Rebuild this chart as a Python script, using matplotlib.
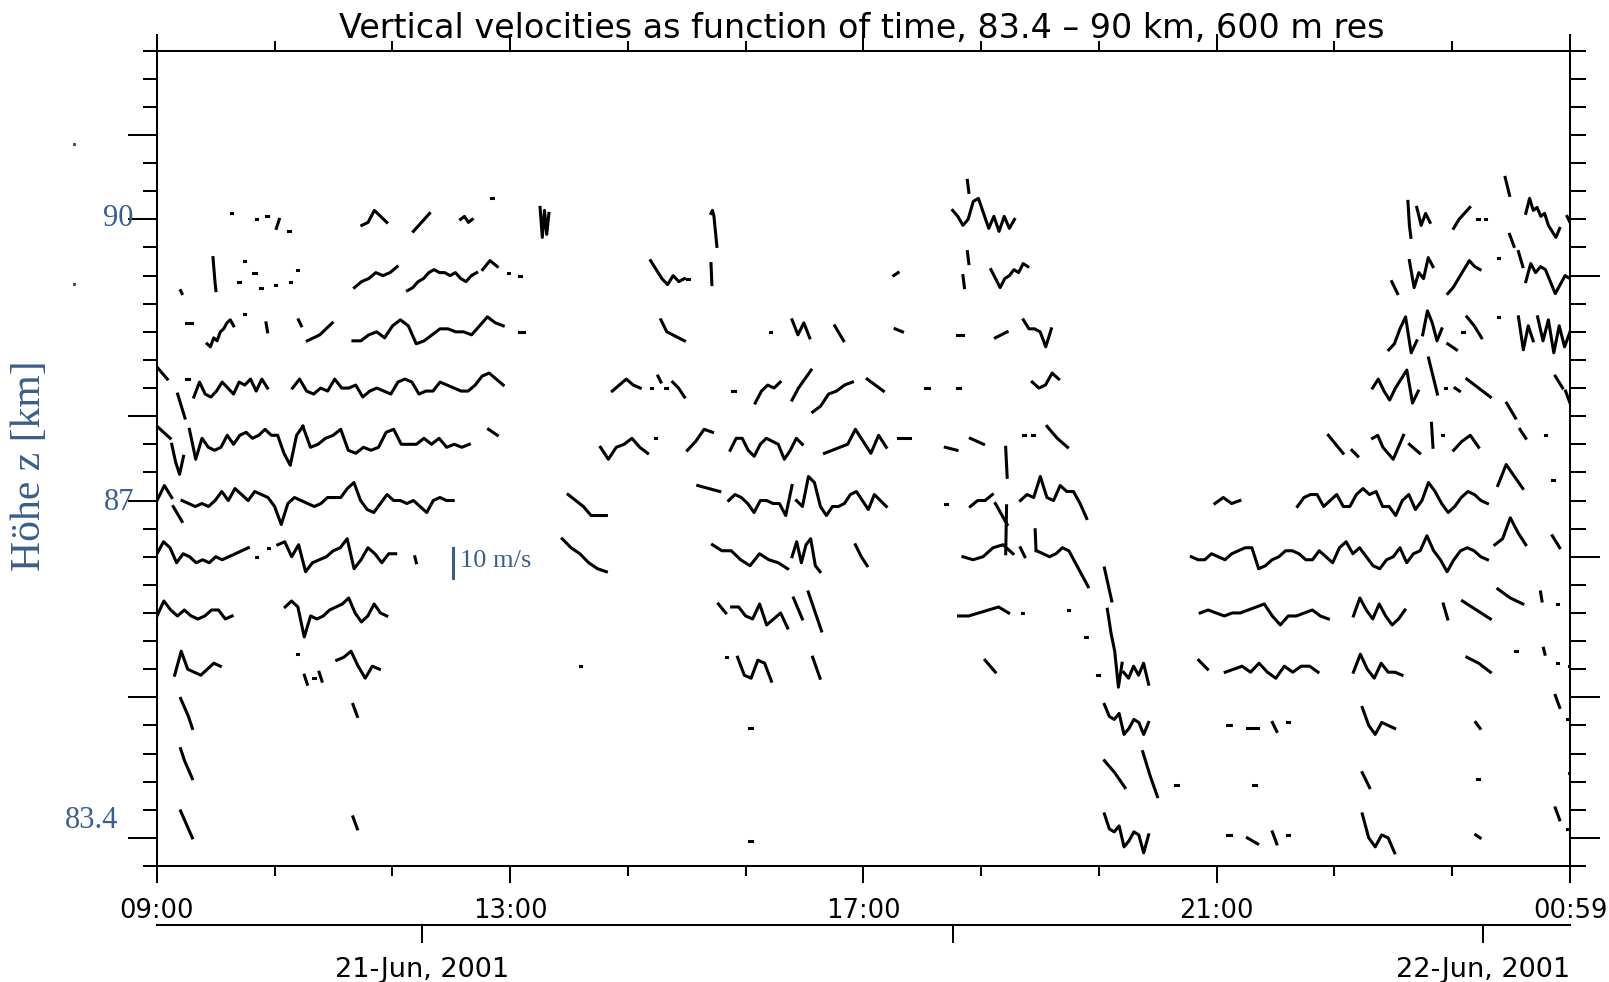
import numpy as np
import matplotlib
matplotlib.use('Agg')
import matplotlib.pyplot as plt
from matplotlib.lines import Line2D

# heights of the 12 range gates (km), 600 m apart
levels = [83.4, 84.0, 84.6, 85.2, 85.8, 86.4, 87.0, 87.6, 88.2, 88.8, 89.4, 90.0]

# traces: (start min after 09:00, end min, vertical velocity in m/s)
w_83_4 = [(16, 24, [9, 6, 3, 0]), (133, 136, [7, 3]), (402, 404, [-1, -1]),
          (643, 673, [8, 3, 2, 4, -3, -1, 2, 1, -5, 1]), (726, 729, [1, 1]), (740, 747, [0, -2]),
          (757, 760, [2, -2]), (767, 768, [1, 1]), (818, 840, [8, 0, -3, 1, 0, -5]),
          (895, 898, [1, 0]), (949, 952, [10, 6]), (957, 958, [3, 3])]
w_84_0 = [(16, 24, [11, 7, 4, 1]), (643, 657, [7, 3, -2]), (669, 679, [10, 2, -5]),
          (691, 693, [-1, -1]), (744, 746, [-1, -1]), (818, 823, [3, -2]), (896, 897, [1, 1]),
          (958, 959, [3, 3])]
w_84_6 = [(16, 24, [9, 6, 3, -1]), (133, 136, [7, 3]), (402, 404, [-1, -1]),
          (643, 673, [7, 3, 2, 4, -3, -1, 2, 1, -3, 1]), (726, 729, [0, 0]), (740, 747, [-1, -1]),
          (757, 760, [1, -2]), (767, 768, [1, 1]), (818, 840, [6, 0, -3, 1, 0, -1]),
          (895, 898, [1, -1]), (949, 952, [10, 6]), (957, 958, [2, 2])]
w_85_2 = [(12, 43, [-2, 6, 0, -1, -2, 0, 2, 1]), (95, 96, [5, 5]), (100, 102, [-2, -5]),
          (106, 107, [-3, -3]), (110, 112, [-1, -4]), (122, 151, [3, 4, 6, 1, -3, 1, 0]),
          (287, 288, [1, 1]), (386, 387, [4, 4]), (394, 417, [4, -2, -3, 3, 2, -4]),
          (445, 450, [4, -3]), (562, 569, [3, -1]), (638, 639, [-2, -2]),
          (645, 655, [20, 12, 6, -6, 2]), (656, 673, [-1, -3, 1, -2, 2, -5]), (707, 713, [3, 0]),
          (725, 788, [-1, 0, 1, -1, 2, -1, -3, 1, -1, 1, 1, -1]),
          (812, 845, [-1, 5, 0, -3, 2, -1, -1, -2]), (889, 905, [4, 2, -1]), (922, 923, [6, 6]),
          (941, 942, [7, 5]), (950, 951, [2, 2]), (958, 959, [1, 1])]
w_85_8 = [(0, 51, [-1, 4, 1, -1, 1, -1, -2, -1, 1, 1, -2, -1]),
          (87, 156, [2, 4, 2, -8, -1, -2, -1, 1, 2, 3, 5, 0, -3, -1, 3, 0, -1]),
          (381, 386, [3, 0]), (390, 428, [2, 2, -1, -2, 3, -4, -2, 0, -5]), (432, 438, [5, -2]),
          (442, 451, [7, -6]), (544, 578, [-1, -1, 0, 1, 2, 0]), (587, 588, [0, 0]),
          (618, 619, [1, 1]), (630, 631, [-8, -8]), (643, 648, [15, 4]),
          (708, 795, [0, 1, 0, -1, 0, 0, 1, 2, 3, -1, -4, -1, -1, 0, 1, -1, -2]),
          (812, 847, [-1, 5, 1, -2, 3, -1, -4, -2, 1]), (873, 876, [3, -2]),
          (886, 905, [4, 2, 0, -2]), (910, 927, [8, 5, 3]), (939, 940, [7, 4]), (950, 951, [3, 3])]
w_86_4 = [(0, 62, [1, 5, 3, -2, 1, 0, -2, -1, -2, 0, -1, 0, 1, 2, 3]), (67, 68, [0, 0]),
          (75, 76, [3, 3]),
          (82, 162, [4, 5, 0, 4, -5, -2, -1, 0, 2, 3, 6, -4, -1, 3, 1, -2, 1, 1]),
          (175, 176, [0, -2]), (275, 305, [6, 3, 1, -2, -4, -5]),
          (377, 428, [4, 2, 2, -1, -3, 1, -1, -2, -4]), (431, 450, [0, 5, -2, 4, 6, -3, -5]),
          (474, 482, [4, 0, -3]), (547, 581, [0, -1, 0, 3, 4, 1]), (576, 576.6, [1, 17]),
          (586, 589, [3, 0]), (596, 596.6, [9, 2]),
          (597, 632, [2, 1, 0, 1, 3, 2, -2, -6, -10]),
          (702, 903, [0, -1, -1, 1, 0, -1, 1, 2, 3, 3, -4, -3, -1, 0, 2, 2, 1, -1, -1, 2, 0, -2,
                      3, 5, 1, 3, 0, -3, -4, -1, 0, 3, -2, 1, 2, 7, 2, -1, -5, -1, 2, 3, 2, 0, -1]),
          (908, 929, [4, 6, 13, 8, 4]), (947, 952, [7, 3])]
w_87_0 = [(0, 10, [0, 5, 1]), (11, 17, [-2, -7]),
          (17, 201, [0, -1, -2, -1, -2, 0, 3, 0, 4, 2, 0, 3, 2, 1, -2, -8, -1, 1, 0, -1, -2, -1,
                     1, 1, 1, 4, 6, 0, -3, -4, -1, 2, 0, 0, -1, 0, -2, -4, 0, 1, 0, 0]),
          (279, 305, [2, 0, -2, -5, -5, -5]), (367, 382, [5, 4, 3]),
          (388, 431, [0, 2, 1, -1, -4, 0, 0, -1, -1, -5, 5]),
          (434, 495, [0, -2, 8, 6, -2, -5, -2, -2, -1, 2, 3, 0, -3, 2, 0, -2]),
          (535, 536, [-1, -1]), (552, 567, [-2, 0, 0, 2]), (569, 577, [-1, -8]),
          (586, 631, [0, 2, 1, 8, 1, 0, 5, 3, 3, -1, -6]), (718, 735, [-1, 1, -1, 0]),
          (774, 903, [-2, 1, 2, 2, -2, 0, 2, -2, -2, 2, 4, 2, 3, -2, -2, -5, 0, 2, -3, 0, 6, 3,
                      -1, -4, -2, 1, 3, 2, 0, -1]),
          (910, 927, [5, 12, 8, 4]), (947, 948, [7, 7])]
w_87_6 = [(0, 9, [6, 2]), (10, 18, [0, -6, -10, -4]),
          (22, 99, [5, -5, 2, -1, -2, -1, 3, 0, 3, 4, 2, 3, 5, 3, 3, -3, -7, 3, 6]),
          (99, 212, [6, -1, 0, 2, 3, 5, -2, -3, -1, -2, -1, 4, 5, 0, 0, 0, 2, 0, 2, -1, 0, -1, 0]),
          (225, 231, [5, 3]), (301, 333, [-1, -5, -1, 0, 2, -1, -3]), (338, 339, [2, 2]),
          (360, 377, [-2, 1, 5, 4]), (389, 438, [-2, 2, 2, -2, -4, 0, 2, 1, 0, -5, -2, 2, 0]),
          (453, 495, [-3, -2, -1, 0, 5, 1, -3, 3, -1]), (503, 511, [2, 2]), (535, 543, [-1, -2]),
          (552, 561, [2, 0]), (576, 577, [-1, -11]), (588, 589, [3, 3]), (594, 595, [3, 3]),
          (604, 618, [6, 2, -1]), (795, 805, [3, 0, -3]), (811, 815, [-2, -4]),
          (825, 846, [2, 3, -1, -3, -5, -1, 3]), (850, 857, [0, -3]), (865, 866, [7, -1]),
          (872, 873, [3, 3]), (880, 897, [-2, 1, 3, -1]), (925, 929, [5, 2]), (942, 943, [3, 3])]
w_88_2 = [(0, 7, [7, 3]), (14, 19, [-2, -10]), (20, 22, [3, 3]),
          (25, 75, [-3, 2, -2, -3, -1, 2, 0, -2, 2, 1, 3, -1, 3, 0]),
          (92, 235, [0, 3, -1, -2, 0, -1, 3, 0, 0, 1, -3, -1, 0, -1, -2, 2, 3, 2, -2, -1, -1, 2,
                     1, 0, -1, -1, 1, 4, 5, 3, 1]),
          (309, 328, [-1, 1, 3, 1, 0]), (335, 336, [0, 0]), (340, 342, [4, 2]), (345, 346, [0, 0]),
          (350, 358, [2, 0, -3]), (390, 392, [-1, -1]), (406, 423, [-5, -1, 1, 0, 2]),
          (431, 444, [-4, 0, 3, 6]), (445, 472, [-8, -6, -2, -1, 1, 2]), (482, 493, [3, 1, -1]),
          (521, 524, [0, 0]), (543, 545, [0, 0]), (594, 612, [2, 0, 1, 5, 3]),
          (825, 856, [0, 3, -1, -4, 0, 3, 6, -5, -1]), (863, 869, [10, 4, -2]), (874, 875, [0, 0]),
          (881, 884, [0, -1]), (889, 905, [3, 1, -1, -3]), (916, 922, [-5, -10]),
          (949, 954, [4, 0]), (956, 959, [-1, -5])]
w_88_8 = [(20, 24, [3, 3]), (34, 52, [-4, -5, -2, -3, 0, 1, 3, 4, 2]), (59, 60, [6, 6]),
          (74, 75, [3, 0]), (96, 98, [4, 2]), (102, 119, [-3, -2, -1, 1, 3]),
          (133, 235, [-3, -3, -1, 0, -2, 2, 4, 2, -4, -3, -1, 1, 1, 0, 0, -1, 2, 5, 3, 2]),
          (246, 249, [0, 0]), (342, 358, [4, 0, -1, -2, -3]), (416, 417, [0, 0]),
          (431, 443, [4, -1, 3, -2]), (460, 466, [2, -3]), (501, 506, [1, 0]),
          (543, 547, [-1, -1]), (569, 577, [-2, 0]), (588, 607, [4, 1, 1, 0, -5, 1]),
          (836, 855, [-6, -4, 1, 5, -7, -3]), (859, 872, [-1, 7, 3, -3, 1]), (876, 882, [-4, -6]),
          (886, 887, [0, 0]), (889, 899, [5, 2, -2]), (910, 911, [5, 5]),
          (924, 934, [5, -6, 2, -3]), (937, 959, [5, -3, 4, -7, 2, -5, 0])]
w_89_4 = [(16, 17, [-5, -6]), (38, 40, [6, 2, -2, -5]), (55, 56, [-2, -2]), (59, 60, [5, 5]),
          (65, 67, [1, 1]), (70, 71, [-4, -4]), (80, 81, [-3, -3]), (90, 91, [-2, -2]),
          (95, 96, [2, 2]), (134, 163, [-4, -2, -1, 1, 0, 1, 3]),
          (170, 217, [-5, -4, -2, -1, 1, 2, 1, 1, 0, 1, -1, -2, 0, 1]), (221, 231, [2, 5, 3]),
          (238, 239, [1, 1]), (246, 247, [0, 0]), (335, 358, [5, 2, -1, -3, 0, -2, -1]),
          (360, 361, [-1, -1]), (376, 376.6, [4, -3]), (500, 503, [0, 1]), (547, 548, [0, -4]),
          (550, 551, [8, 4]), (566, 591, [2, -1, -4, -1, 0, 2, 1, 4, 3]), (838, 842, [-2, -6]),
          (850, 866, [5, -4, 1, -1, 6, 3]), (876, 898, [-6, -4, -1, 2, 5, 3, 2]),
          (910, 911, [6, 6]), (924, 927, [8, 3]), (929, 959, [-2, 4, 1, 3, 2, -2, -6, -3, 0, -1])]
w_90_0 = [(50, 51, [2, 2]), (67, 68, [0, 0]), (74, 75, [1, 1]), (81, 83, [-3, 0]),
          (89, 90, [-4, -4]), (139, 156, [-2, -1, 3, 1, -1]), (174, 185, [-4, -2, 0, 2]),
          (206, 214, [0, 1, -1, 0]), (227, 228, [7, 7]), (260, 266, [4, -6, 3, -5, 2]),
          (376, 380, [2, 3, 1, -4, -9]), (550, 551, [13, 9]),
          (540, 582, [3, 1, -2, 0, 6, 7, 2, -3, 1, -4, 1, -3, 0]), (849, 851, [6, -2, -6]),
          (855, 864, [4, -2, 2, -1]), (880, 891, [-3, 0, 2, 4]), (896, 897, [0, 0]),
          (901, 902, [0, 0]), (915, 918, [14, 8]), (918, 921, [-5, -9]),
          (929, 952, [2, 7, 3, 4, 1, 2, -2, -4, -6, -3]), (957, 959, [1, -1])]

traces = [w_83_4, w_84_0, w_84_6, w_85_2, w_85_8, w_86_4,
          w_87_0, w_87_6, w_88_2, w_88_8, w_89_4, w_90_0]

time_labels = ['09:00', '13:00', '17:00', '21:00', '00:59']
date_labels = ['21-Jun, 2001', '', '22-Jun, 2001']

KM_PER_MS = 0.032   # 10 m/s scale bar = 0.32 km on the height axis
BLUE = '#3a5e8c'
t_end = 24 + 59 / 60.

fig = plt.figure(figsize=(16.09, 9.82), dpi=100)
L, B, W, H = 157/1609., (982-866)/982., (1570-157)/1609., (866-50.7)/982.
ax = fig.add_axes([L, B, W, H])

for lev, segs in zip(levels, traces):
    for t0, t1, w in segs:
        t = 9 + np.linspace(t0, t1, len(w)) / 60.
        ax.plot(t, lev + np.array(w) * KM_PER_MS, color='black', lw=2.2,
                solid_capstyle='projecting')

ax.set_xlim(9, t_end)
ax.set_ylim(83.1, 91.8)

# x ticks: 13 evenly spaced, every third one labelled
xt = 9 + np.arange(13) * (t_end - 9) / 12.
ax.set_xticks(xt[::3])
ax.set_xticklabels(time_labels)
ax.set_xticks(xt, minor=True)
ax.tick_params(axis='x', which='both', direction='out', top=True, bottom=True, width=1.45)
ax.tick_params(axis='x', which='major', length=12.2, pad=11, labelsize=18.5)
ax.tick_params(axis='x', which='minor', length=7.2)

yminor = np.round(83.1 + 0.3 * np.arange(30), 2)
ax.set_yticks([83.4, 84.9, 87.0, 87.9, 90.0, 90.9])
ax.set_yticks(yminor, minor=True)
ax.tick_params(axis='y', which='both', direction='out', left=True, right=False,
               labelleft=False, width=1.45)
ax.tick_params(axis='y', which='major', length=21)
ax.tick_params(axis='y', which='minor', length=10)
for s in ax.spines.values():
    s.set_linewidth(1.45)

sec = ax.secondary_yaxis('right')
sec.set_yticks([83.4, 84.9, 86.4, 89.4])
sec.set_yticks(yminor, minor=True)
sec.tick_params(axis='y', which='both', direction='out', width=1.45, labelright=False)
sec.tick_params(axis='y', which='major', length=21.6)
sec.tick_params(axis='y', which='minor', length=11.5)
sec.spines['right'].set_linewidth(1.45)

# date axis below
ax2 = fig.add_axes([L, (982-925)/982., W, 0.0001])
ax2.set_xlim(9, t_end)
ax2.set_yticks([])
ax2.patch.set_visible(False)
for k in ['top', 'left', 'right']:
    ax2.spines[k].set_visible(False)
ax2.spines['bottom'].set_linewidth(1.45)
ax2.set_xticks([12, 18, 24])
ax2.set_xticklabels(date_labels)
ax2.tick_params(axis='x', direction='out', length=13, width=1.45, pad=10, labelsize=19.5)

fig.text(862/1609., 1-29/982., 'Vertical velocities as function of time, 83.4 \u2013 90 km, 600 m res',
         ha='center', va='center', fontsize=24)

# blue annotations
serif = ['Liberation Serif', 'DejaVu Serif']
fig.text(133/1609., 1-219/982., '90', ha='right', va='center', color=BLUE, fontsize=22, family=serif)
fig.text(134/1609., 1-503/982., '87', ha='right', va='center', color=BLUE, fontsize=22, family=serif)
fig.text(118/1609., 1-821/982., '83.4', ha='right', va='center', color=BLUE, fontsize=22, family=serif)
fig.text(30/1609., 1-466/982., 'H\u00f6he z [km]', rotation=90, ha='center', va='center',
         color=BLUE, fontsize=30, family=serif)

ax.plot([12.348, 12.348], [86.173, 86.173 + 10 * KM_PER_MS], color=BLUE, lw=2.2)
ax.text(12.43, 86.35, '10 m/s', color=BLUE, fontsize=19, family=serif, ha='left', va='center')

# two stray specks left of the axis
for yy in (144, 284):
    fig.add_artist(Line2D([74/1609.], [1-yy/982.], marker='s', ms=1.3, color='0.3',
                          transform=fig.transFigure))

fig.savefig('out.png', dpi=100)
